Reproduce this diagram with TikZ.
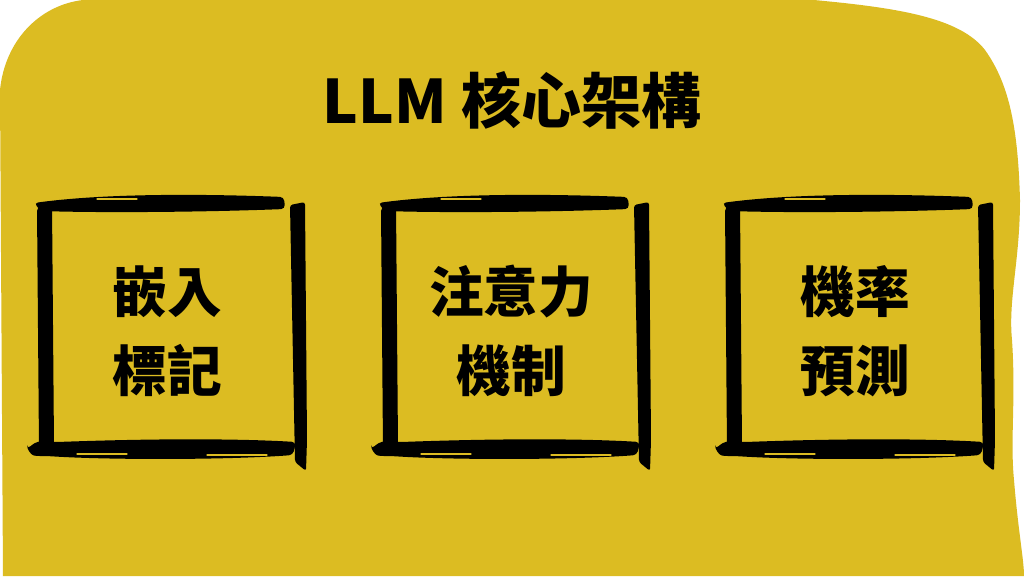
\documentclass[tikz,border=0pt]{standalone}
\usepackage{fontspec}
\setmainfont{Noto Sans CJK TC}
\usetikzlibrary{positioning}
\definecolor{mustard}{HTML}{DCBC22}

\begin{document}
\begin{tikzpicture}[x=0.75pt, y=-0.75pt,
    streak/.style={mustard, line width=0.8pt, line cap=round},
    label/.style={align=center, font=\bfseries\fontsize{41}{59}\selectfont}]
    \fill[white] (0,0) rectangle (1024,576);
    \useasboundingbox (0,0) rectangle (1024,576);
    % yellow backdrop
    \fill[mustard] (83,0) -- (814,0) .. controls (900,8) and (960,18) .. (985,50)
        .. controls (1010,85) and (1018,130) .. (1020,200)
        .. controls (1020,260) and (1008,300) .. (1012,340)
        .. controls (1016,400) and (1010,440) .. (1014,480)
        .. controls (1018,530) and (1024,560) .. (1024,576)
        -- (3,576) -- (0,90) .. controls (5,40) and (40,5) .. (83,0) -- cycle;

    \node[font=\bfseries\fontsize{45}{54}\selectfont] (title) at (512,100) {LLM 核心架構};
    \node[label] (embed) at (167,331) {嵌入\\標記};
    \node[label] (attn) at (511,331) {注意力\\機制};
    \node[label] (prob) at (855,331) {機率\\預測};

    % brush frames
    \foreach \c in {167,511,855} {
        \fill[rounded corners=3] (\c-133,203) .. controls (\c-60,193) and (\c+40,194) .. (\c+117,197)
            -- (\c+118,209) .. controls (\c+40,212) and (\c-60,213) .. (\c-126,211) -- cycle;
        \fill[rounded corners=3] (\c-130,207) -- (\c-115,204) -- (\c-113,446) -- (\c-128,449) -- cycle;
        \fill[rounded corners=2] (\c+123,205) -- (\c+138,202) -- (\c+140,440) -- (\c+139,471)
            -- (\c+128,462) -- cycle;
        \fill[rounded corners=3] (\c-140,449) .. controls (\c-130,441) .. (\c-110,442)
            .. controls (\c,438) and (\c+80,439) .. (\c+129,442) -- (\c+126,455)
            .. controls (\c+60,460) and (\c-60,460) .. (\c-120,456)
            .. controls (\c-134,456) .. cycle;
        \draw[streak] (\c-90,454) -- (\c-40,454);
        \draw[streak] (\c+40,455) -- (\c+100,455);
        \draw[streak] (\c-70,199) -- (\c-30,199);
    }
\end{tikzpicture}
\end{document}
